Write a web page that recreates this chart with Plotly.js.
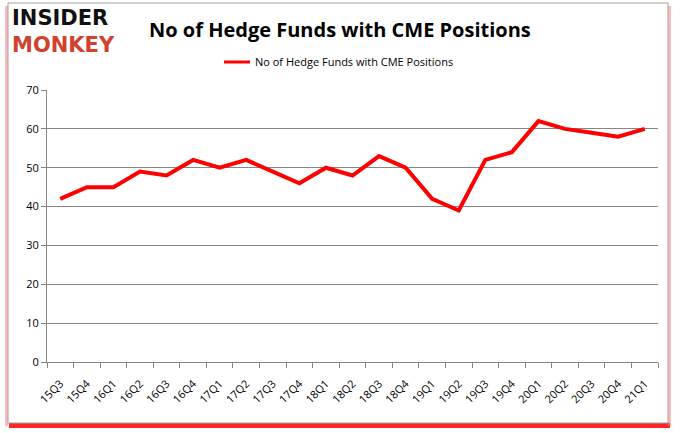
<!DOCTYPE html>
<html>
<head>
<meta charset="utf-8">
<script src="https://cdn.plot.ly/plotly-3.0.1.min.js"></script>
<style>html,body{margin:0;padding:0;background:#fff;}#chart{width:680px;height:433px;}</style>
</head>
<body>
<div id="chart"></div>
<script>
var quarters = ["15Q3","15Q4","16Q1","16Q2","16Q3","16Q4","17Q1","17Q2","17Q3","17Q4","18Q1","18Q2","18Q3","18Q4","19Q1","19Q2","19Q3","19Q4","20Q1","20Q2","20Q3","20Q4","21Q1"];
var hedgeFunds = [42,45,45,49,48,52,50,52,49,46,50,48,53,50,42,39,52,54,62,60,59,58,60];
var yTicks = [0,10,20,30,40,50,60,70];
var seriesName = "No of Hedge Funds with CME Positions";
var chartTitle = "No of Hedge Funds with CME Positions";

// pixel helpers (plot area: l=47, r=658, t=90, b=362)
var L=47, R=658, T=90, B=362;
function px(x){return (x-L)/(R-L);}
function py(y){return (B-y)/(B-T);}

var trace = {
  x: quarters, y: hedgeFunds, type: "scatter", mode: "lines", name: seriesName,
  line: {color: "#ff0000", width: 4}
};

var layout = {
  width: 680, height: 433,
  margin: {l: L, r: 680-R, t: T, b: 433-B},
  paper_bgcolor: "#ffffff", plot_bgcolor: "#ffffff",
  showlegend: false,
  font: {family: "Liberation Sans, Arial, sans-serif", size: 11, color: "#000"},
  xaxis: {
    type: "category", tickangle: -45, showgrid: false, zeroline: false,
    showline: true, linecolor: "#868686", linewidth: 1,
    ticks: "outside", ticklen: 5, tickcolor: "#868686",
    tickson: "boundaries", ticklabelstandoff: 10,
    tickfont: {family: "Open Sans, Arial, sans-serif", size: 11, color: "#000"},
    range: [-0.5, quarters.length - 0.5], fixedrange: true
  },
  yaxis: {
    range: [0, 70], tickvals: yTicks, showgrid: true, gridcolor: "#868686", gridwidth: 1,
    zeroline: false, showline: true, linecolor: "#868686", linewidth: 1,
    ticks: "outside", ticklen: 5, tickcolor: "#868686",
    tickfont: {family: "Open Sans, Arial, sans-serif", size: 11, color: "#000"},
    fixedrange: true
  },
  shapes: [
    {type: "rect", xref: "paper", yref: "paper", x0: px(9), x1: px(670), y0: py(428), y1: py(423), fillcolor: "rgba(255,0,0,0.85)", line: {width: 0}, layer: "below"},
    {type: "rect", xref: "paper", yref: "paper", x0: px(668), x1: px(671), y0: py(426), y1: py(6), fillcolor: "rgba(255,120,120,0.5)", line: {width: 0}, layer: "below"},
    {type: "rect", xref: "paper", yref: "paper", x0: px(5), x1: px(8), y0: py(426), y1: py(6), fillcolor: "rgba(255,120,120,0.5)", line: {width: 0}, layer: "below"},
    {type: "rect", xref: "paper", yref: "paper", x0: px(8), x1: px(668), y0: py(423), y1: py(3), fillcolor: "rgba(0,0,0,0)", line: {color: "#a0a0a0", width: 1}, layer: "below"},
    {type: "line", xref: "paper", yref: "paper", x0: px(224), x1: px(250), y0: py(62), y1: py(62), line: {color: "#ff0000", width: 3}}
  ],
  annotations: [
    {xref: "paper", yref: "paper", x: px(340), y: py(30), xanchor: "center", yanchor: "middle", showarrow: false,
     text: "<b>" + chartTitle + "</b>", font: {family: "Open Sans, sans-serif", size: 20, color: "#000"}},
    {xref: "paper", yref: "paper", x: px(253), y: py(62), xanchor: "left", yanchor: "middle", showarrow: false,
     text: seriesName, font: {family: "Open Sans, sans-serif", size: 11, color: "#000"}},
    {xref: "paper", yref: "paper", x: px(10), y: py(31), xanchor: "left", yanchor: "middle", showarrow: false,
     text: "<b><span style='color:#111'>INSIDER</span><br><span style='color:#d2412f'>MONKEY</span></b>",
     align: "left",
     font: {family: "DejaVu Sans, sans-serif", size: 21, color: "#111"}}
  ]
};

Plotly.newPlot("chart", [trace], layout, {displayModeBar: false, staticPlot: true});
</script>
</body>
</html>
